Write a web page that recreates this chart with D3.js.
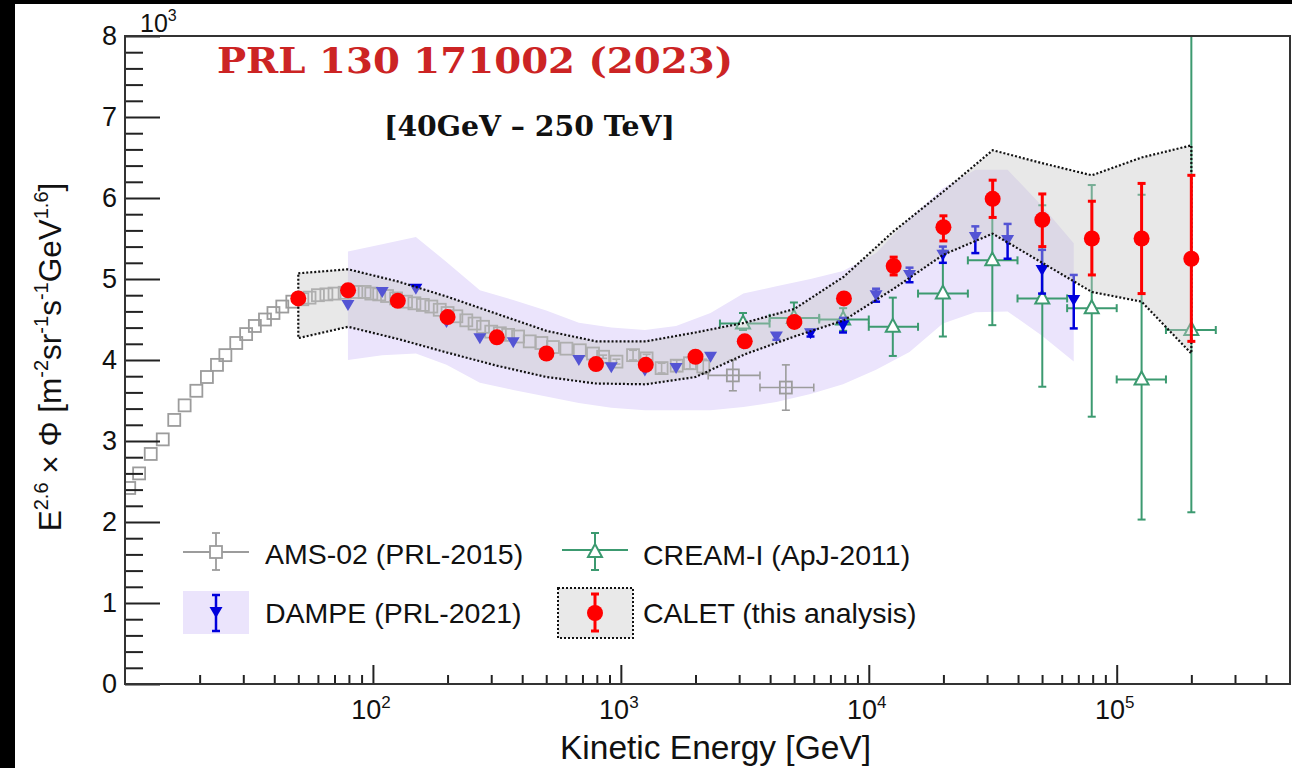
<!DOCTYPE html>
<html><head><meta charset="utf-8">
<script src="https://cdn.jsdelivr.net/npm/d3@7"></script>
<style>body{margin:0;background:#fff;} svg{display:block;}</style>
</head><body>
<svg id="chart" width="1292" height="768"></svg>
<script>
// ---------------- DATA ----------------
// AMS-02 (PRL-2015)
const amsE = [10.4,11.4,12.7,14.2,15.8,17.4,19.4,21.4,23.5,25.4,28.1,30.8,33.4,36.7,39.7,43.1,47.3,51.9,55.5,60.0,64.9,70.0,76.9,85.7,92.6,98.5,106,114,124,136,147,159,172,186,200,217,238,257,278,300,325,351,385,429,478,532,603,683,772,848,960,1120,1270,1460,1680,1900,2150,2830,4630];
const amsV = [2.42,2.60,2.84,3.02,3.26,3.44,3.62,3.79,3.94,4.06,4.21,4.32,4.42,4.50,4.58,4.66,4.72,4.75,4.77,4.80,4.81,4.82,4.83,4.84,4.84,4.82,4.81,4.79,4.76,4.72,4.70,4.68,4.66,4.62,4.58,4.54,4.49,4.45,4.41,4.35,4.33,4.31,4.29,4.23,4.21,4.16,4.14,4.12,4.08,4.04,3.98,4.06,4.02,3.90,3.93,3.96,3.92,3.81,3.66];
const amsErr = [0,0,0,0,0,0,0,0,0,0,0,0,0,0,0,0,0,0,0,0,0,0,0,0,0,0,0,0,0,0,0,0,0,0,0,0,0,0,0,0,0,0,0,0,0,0,0,0,0,0.02,0.03,0.06,0.05,0.06,0.07,0.07,0.09,0.19,0.28];
const amsBinLo = [null,null,null,null,null,null,null,null,null,null,null,null,null,null,null,null,null,null,null,null,null,null,null,null,null,null,null,null,null,null,null,null,null,null,null,null,null,null,null,null,null,null,null,null,null,null,null,null,null,null,null,null,null,null,null,null,null,2250,3640];
const amsBinHi = [null,null,null,null,null,null,null,null,null,null,null,null,null,null,null,null,null,null,null,null,null,null,null,null,null,null,null,null,null,null,null,null,null,null,null,null,null,null,null,null,null,null,null,null,null,null,null,null,null,null,null,null,null,null,null,null,null,3640,6000];

// DAMPE (PRL-2021)
const damE  = [79.3,109,149,198,270,368,500,677,915,1250,1670,2300,3120,4240,5820,7870,10700,14600,19900,26900,36300,50000,67100];
const damV  = [4.68,4.84,4.88,4.47,4.27,4.22,4.08,4.00,3.91,3.87,3.90,4.04,4.20,4.29,4.33,4.43,4.80,5.05,5.30,5.52,5.48,5.11,4.74];
const damLo = [4.66,4.82,4.86,4.45,4.25,4.20,4.06,3.98,3.89,3.85,3.88,4.02,4.17,4.25,4.29,4.34,4.72,4.96,5.20,5.32,5.25,4.82,4.39];
const damHi = [4.70,4.86,4.90,4.49,4.29,4.24,4.10,4.02,3.93,3.89,3.92,4.06,4.23,4.33,4.37,4.52,4.88,5.14,5.40,5.65,5.68,5.36,5.05];
const damBandLo = [4.00,4.06,4.08,3.94,3.72,3.63,3.55,3.47,3.41,3.38,3.38,3.38,3.42,3.48,3.58,3.70,3.88,4.10,4.45,4.59,4.60,4.30,3.98];
const damBandHi = [5.34,5.43,5.52,5.21,4.86,4.74,4.61,4.46,4.40,4.37,4.42,4.58,4.82,4.91,5.00,5.10,5.32,5.75,6.12,6.35,6.35,5.90,5.44];

// CREAM-I (ApJ-2011)
const creamE  = [3110,4990,7880,12500,19900,31500,50100,79300,126000,200000];
const creamV  = [4.45,4.52,4.50,4.41,4.82,5.23,4.76,4.64,3.76,4.37];
const creamLo = [4.37,4.40,4.36,4.05,4.29,4.43,3.67,3.30,2.03,2.12];
const creamHi = [4.58,4.71,4.64,4.77,5.35,6.00,5.91,6.16,6.04,8.60];
const creamBinLo = [2510,3980,6310,10000,15800,25100,39800,63100,100000,158000];
const creamBinHi = [3980,6310,10000,15800,25100,39800,63100,100000,158000,251000];

// CALET (this analysis)
const calE  = [50,79.4,126,200,316,501,794,1260,2000,3160,5010,7940,12600,20000,31600,50100,79400,126000,200000];
const calV  = [4.76,4.86,4.73,4.53,4.28,4.08,3.95,3.94,4.04,4.23,4.47,4.76,5.16,5.64,5.99,5.73,5.50,5.50,5.25];
const calLo = [4.73,4.83,4.70,4.50,4.25,4.05,3.92,3.91,4.01,4.19,4.42,4.70,5.05,5.47,5.76,5.40,5.05,4.82,4.23];
const calHi = [4.79,4.89,4.76,4.56,4.31,4.11,3.98,3.97,4.07,4.27,4.52,4.82,5.27,5.78,6.22,6.05,5.96,6.18,6.28];
const calBandLo = [4.27,4.41,4.26,4.09,3.93,3.79,3.71,3.70,3.79,4.07,4.29,4.49,4.88,5.30,5.56,5.20,4.84,4.72,4.08];
const calBandHi = [5.07,5.12,4.97,4.78,4.57,4.36,4.23,4.23,4.34,4.46,4.63,5.03,5.59,6.08,6.59,6.43,6.28,6.50,6.65];

// Axes
const xMajorTicks = [100,1000,10000,100000];
const xMajorExp = ["2","3","4","5"];
const xMinorTicks = [20,30,40,50,60,70,80,90,200,300,400,500,600,700,800,900,2000,3000,4000,5000,6000,7000,8000,9000,20000,30000,40000,50000,60000,70000,80000,90000,200000,300000,400000];
const yMajorTicks = [0,1,2,3,4,5,6,7,8];
const yMinorTicks = [0.2,0.4,0.6,0.8,1.2,1.4,1.6,1.8,2.2,2.4,2.6,2.8,3.2,3.4,3.6,3.8,4.2,4.4,4.6,4.8,5.2,5.4,5.6,5.8,6.2,6.4,6.6,6.8,7.2,7.4,7.6,7.8];

const legendLabels = ["AMS-02 (PRL-2015)","DAMPE (PRL-2021)","CREAM-I (ApJ-2011)","CALET (this analysis)"];
const titleText = "PRL 130 171002 (2023)";
const subtitleText = "[40GeV \u2013 250 TeV]";

// ---------------- STYLE ----------------
const C_AMS = "#9c9c9c", C_DAM = "#0000dc", C_CREAM = "#3c9a70", C_CAL = "#ff0000";
const C_LAV = "#ebe4fc";
const FONT = "'Liberation Sans', Arial, Helvetica, sans-serif";
const SERIF = "'DejaVu Serif', 'Liberation Serif', serif";

const svg = d3.select("#chart");
const L = 125, R = 1290, T = 36, B = 684;
const x = d3.scaleLog().domain([10, 5e5]).range([L, R]);
const y = d3.scaleLinear().domain([0, 8]).range([B, T]);

svg.append("rect").attr("width",1292).attr("height",768).attr("fill","#fff");
svg.append("rect").attr("x",0).attr("y",0).attr("width",15).attr("height",768).attr("fill","#000");
svg.append("rect").attr("x",0).attr("y",0).attr("width",1292).attr("height",4).attr("fill","#000");

svg.append("clipPath").attr("id","clip").append("rect")
  .attr("x",L).attr("y",T).attr("width",R-L).attr("height",B-T);
const plot = svg.append("g").attr("clip-path","url(#clip)");

// DAMPE band
const damIdx = d3.range(damE.length);
plot.append("path").datum(damIdx)
  .attr("d", d3.area().x(i=>x(damE[i])).y0(i=>y(damBandLo[i])).y1(i=>y(damBandHi[i])))
  .attr("fill", C_LAV);

function vbar(g, xp, y1, y2, color, w, cap){
  g.append("line").attr("x1",xp).attr("x2",xp).attr("y1",y1).attr("y2",y2)
    .attr("stroke",color).attr("stroke-width",w);
  if(cap){
    [y1,y2].forEach(yy=>g.append("line").attr("x1",xp-cap).attr("x2",xp+cap).attr("y1",yy).attr("y2",yy)
      .attr("stroke",color).attr("stroke-width",w));
  }
}
function hbar(g, x1, x2, yp, color, w, cap){
  g.append("line").attr("x1",x1).attr("x2",x2).attr("y1",yp).attr("y2",yp)
    .attr("stroke",color).attr("stroke-width",w);
  if(cap){
    [x1,x2].forEach(xx=>g.append("line").attr("x1",xx).attr("x2",xx).attr("y1",yp-cap).attr("y2",yp+cap)
      .attr("stroke",color).attr("stroke-width",w));
  }
}

// AMS
const gA = plot.append("g");
amsE.forEach((e,i)=>{
  const xp=x(e), yp=y(amsV[i]);
  if(amsErr[i]>0) vbar(gA,xp,y(amsV[i]-amsErr[i]),y(amsV[i]+amsErr[i]),C_AMS,1.6,4);
  if(amsBinLo[i]) hbar(gA,x(amsBinLo[i]),x(amsBinHi[i]),yp,C_AMS,1.6,4);
});
gA.selectAll("rect.m").data(amsE).join("rect").attr("class","m")
  .attr("x",(e)=>x(e)-6).attr("y",(e,i)=>y(amsV[i])-6).attr("width",12).attr("height",12)
  .attr("fill","none").attr("stroke",C_AMS).attr("stroke-width",1.8);

// CREAM
const gC = plot.append("g");
creamE.forEach((e,i)=>{
  const xp=x(e), yp=y(creamV[i]);
  vbar(gC,xp,y(creamLo[i]),y(creamHi[i]),C_CREAM,2,4);
  hbar(gC,x(creamBinLo[i]),x(creamBinHi[i]),yp,C_CREAM,2,4);
});
gC.selectAll("path.m").data(creamE).join("path").attr("class","m")
  .attr("transform",(e,i)=>`translate(${x(e)},${y(creamV[i])})`)
  .attr("d","M0,-8L7,5L-7,5Z").attr("fill","#fff").attr("stroke",C_CREAM).attr("stroke-width",2);

// DAMPE points
const gD = plot.append("g");
damE.forEach((e,i)=>{
  if(damHi[i]-damLo[i]>0.05) vbar(gD,x(e),y(damLo[i]),y(damHi[i]),C_DAM,2.5,4);
});
gD.selectAll("path.m").data(damE).join("path").attr("class","m")
  .attr("transform",(e,i)=>`translate(${x(e)},${y(damV[i])})`)
  .attr("d","M-6.5,-5L6.5,-5L0,6Z").attr("fill",C_DAM);

// CALET band
const calIdx = d3.range(calE.length);
const calArea = d3.area().x(i=>x(calE[i])).y0(i=>y(calBandLo[i])).y1(i=>y(calBandHi[i]));
plot.append("path").datum(calIdx).attr("d",calArea)
  .attr("fill","rgba(200,200,200,0.42)");
const outline = calIdx.map(i=>[x(calE[i]),y(calBandHi[i])])
  .concat(calIdx.slice().reverse().map(i=>[x(calE[i]),y(calBandLo[i])]));
plot.append("path").attr("d", d3.line()(outline)+"Z")
  .attr("fill","none").attr("stroke","#111").attr("stroke-width",2.2).attr("stroke-dasharray","2,2");

// CALET points
const gK = plot.append("g");
calE.forEach((e,i)=>vbar(gK,x(e),y(calLo[i]),y(calHi[i]),C_CAL,3,4));
gK.selectAll("circle").data(calE).join("circle")
  .attr("cx",e=>x(e)).attr("cy",(e,i)=>y(calV[i])).attr("r",8).attr("fill",C_CAL);

// ---------------- AXES ----------------
const axG = svg.append("g");
axG.append("g").attr("transform",`translate(${L},0)`)
  .call(d3.axisLeft(y).tickValues(yMajorTicks).tickSize(-35).tickPadding(8).tickFormat(d3.format("d")))
  .call(g=>{g.select(".domain").remove();
    g.selectAll("line").attr("stroke","#222").attr("stroke-width",2);
    g.selectAll("text").attr("font-family",FONT).attr("font-size",27).attr("fill","#111");});
axG.append("g").attr("transform",`translate(${L},0)`)
  .call(d3.axisLeft(y).tickValues(yMinorTicks).tickSize(-18).tickFormat(""))
  .call(g=>{g.select(".domain").remove(); g.selectAll("line").attr("stroke","#222").attr("stroke-width",2);});
axG.append("g").attr("transform",`translate(0,${B})`)
  .call(d3.axisBottom(x).tickValues(xMajorTicks).tickSize(-19).tickFormat(""))
  .call(g=>{g.select(".domain").remove(); g.selectAll("line").attr("stroke","#222").attr("stroke-width",2);});
axG.append("g").attr("transform",`translate(0,${B})`)
  .call(d3.axisBottom(x).tickValues(xMinorTicks).tickSize(-9).tickFormat(""))
  .call(g=>{g.select(".domain").remove(); g.selectAll("line").attr("stroke","#222").attr("stroke-width",2);});
svg.append("rect").attr("x",L).attr("y",T).attr("width",R-L).attr("height",B-T)
  .attr("fill","none").attr("stroke","#333").attr("stroke-width",2);

// x tick labels "10^n"
xMajorTicks.forEach((v,i)=>{
  const t = svg.append("text").attr("x",x(v)-2).attr("y",719).attr("text-anchor","middle")
    .attr("font-family",FONT).attr("font-size",27).attr("fill","#111");
  t.append("tspan").text("10");
  t.append("tspan").attr("dy",-11).attr("font-size",17).text(xMajorExp[i]);
});
{
  const t = svg.append("text").attr("x",140).attr("y",32).attr("font-family",FONT).attr("font-size",25).attr("fill","#111");
  t.append("tspan").text("10");
  t.append("tspan").attr("dy",-11).attr("font-size",16).text("3");
}

// axis titles
svg.append("text").attr("x",(L+R)/2 + 8).attr("y",759).attr("text-anchor","middle")
  .attr("font-family",FONT).attr("font-size",33.5).attr("fill","#111").text("Kinetic Energy [GeV]");
{
  const t = svg.append("text").attr("transform","translate(61,357) rotate(-90)").attr("text-anchor","middle")
    .attr("font-family",FONT).attr("font-size",31.5).attr("fill","#111");
  const parts = [["E",0],["2.6",1],[" \u00d7 \u03a6 [m",0],["-2",1],["sr",0],["-1",1],["s",0],["-1",1],["GeV",0],["1.6",1],["]",0]];
  let up = false;
  parts.forEach(([s,sup])=>{
    const ts = t.append("tspan").text(s);
    if(sup && !up){ ts.attr("dy",-13).attr("font-size",20); up=true; }
    else if(sup){ ts.attr("font-size",20); }
    else if(!sup && up){ ts.attr("dy",13); up=false; }
  });
}

// titles
svg.append("text").attr("x",217).attr("y",73).attr("font-family",SERIF)
  .attr("font-weight","bold").attr("font-size",35).attr("fill","#cc2424")
  .attr("textLength",516).attr("lengthAdjust","spacingAndGlyphs").text(titleText);
svg.append("text").attr("x",384).attr("y",136).attr("font-family",SERIF)
  .attr("font-weight","bold").attr("font-size",27).attr("fill","#111")
  .attr("textLength",291).attr("lengthAdjust","spacingAndGlyphs").text(subtitleText);

// ---------------- LEGEND ----------------
const lg = svg.append("g");
hbar(lg,183,249,552,C_AMS,1.8,0);
vbar(lg,216,533,570,C_AMS,1.8,4);
lg.append("rect").attr("x",210).attr("y",546).attr("width",12).attr("height",12).attr("fill","#fff").attr("stroke",C_AMS).attr("stroke-width",1.8);
lg.append("rect").attr("x",183).attr("y",591).attr("width",66).attr("height",43).attr("fill",C_LAV);
vbar(lg,216,595,631,C_DAM,2.5,4);
lg.append("path").attr("transform","translate(216,612)").attr("d","M-6.5,-5L6.5,-5L0,6Z").attr("fill",C_DAM);
hbar(lg,562,628,550,C_CREAM,2,0);
vbar(lg,595,533,570,C_CREAM,2,4);
lg.append("path").attr("transform","translate(595,552)").attr("d","M0,-8L7,5L-7,5Z").attr("fill","#fff").attr("stroke",C_CREAM).attr("stroke-width",2);
lg.append("rect").attr("x",558).attr("y",588).attr("width",75).attr("height",50).attr("fill","#e9e9e9")
  .attr("stroke","#111").attr("stroke-width",2).attr("stroke-dasharray","2,2");
vbar(lg,595,594,631,C_CAL,3,4);
lg.append("circle").attr("cx",595).attr("cy",613).attr("r",8).attr("fill",C_CAL);

const legPos = [[265,564],[265,623],[643,565],[643,623]];
legendLabels.forEach((s,i)=>{
  lg.append("text").attr("x",legPos[i][0]).attr("y",legPos[i][1]).attr("font-family",FONT)
    .attr("font-size",28.5).attr("fill","#111").text(s);
});
</script>
</body></html>
